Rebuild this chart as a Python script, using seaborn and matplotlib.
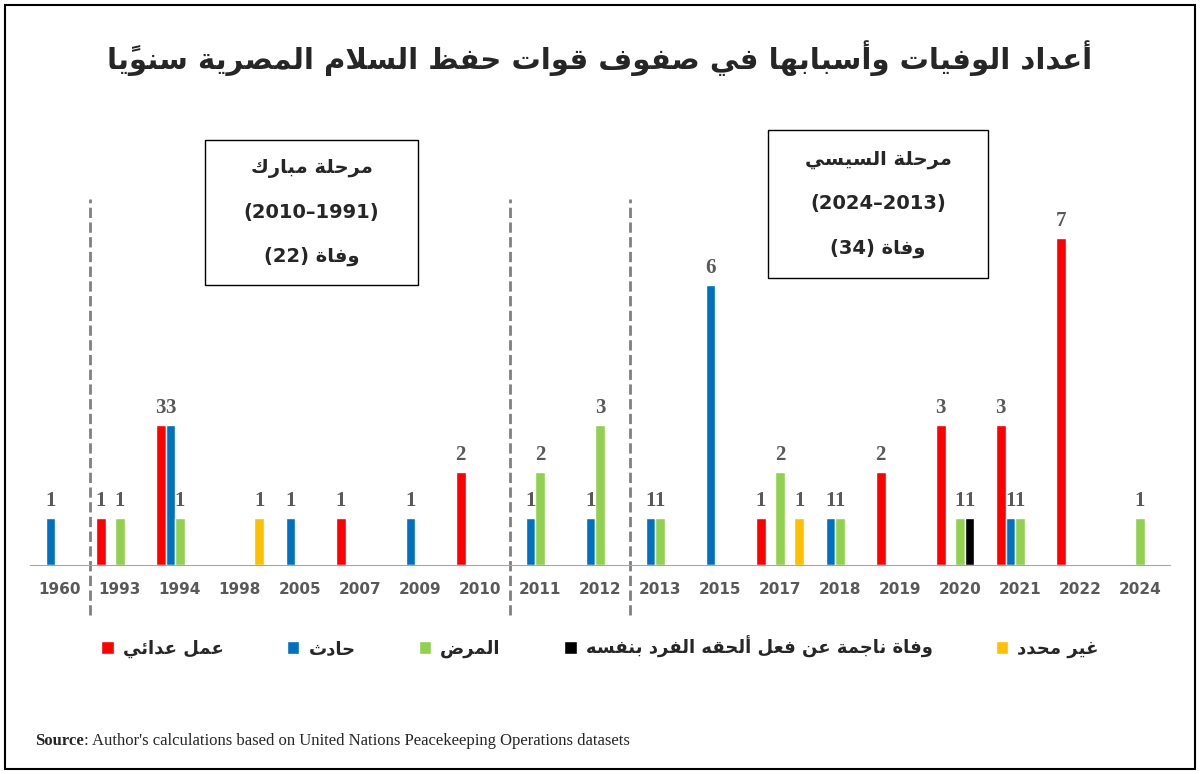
import numpy as np
import pandas as pd
import matplotlib.pyplot as plt
import seaborn as sns
from matplotlib.patches import Rectangle

# ---- Arabic shaping (no arabic_reshaper available) ----
_seq = "ءآأؤإئابةتثجحخدذرزسشصضطظعغفقكلمنهوىي"
_two = set("آأؤإاةدذرزوى")
_forms = {}
_cp = 0xFE80
for ch in _seq:
    n = 1 if ch == "ء" else (2 if ch in _two else 4)
    _forms[ch] = [chr(_cp + i) for i in range(n)]
    _cp += n
_lamalef = {"آ": 0xFEF5, "أ": 0xFEF7, "إ": 0xFEF9, "ا": 0xFEFB}
_marks = set("\u064b\u064c\u064d\u064e\u064f\u0650\u0651\u0652")


def ar(text):
    chars = list(text)
    clusters = []
    i = 0

    def nb(j, step):
        j += step
        while 0 <= j < len(chars) and chars[j] in _marks:
            j += step
        return chars[j] if 0 <= j < len(chars) else None

    while i < len(chars):
        c = chars[i]
        if c in _forms:
            p = nb(i, -1)
            pj = p is not None and p in _forms and len(_forms[p]) == 4
            nxt = nb(i, 1)
            if c == "ل" and nxt in _lamalef:
                g = chr(_lamalef[nxt] + (1 if pj else 0))
                clusters.append([g])
                i += 1
                while chars[i] in _marks:
                    i += 1
                i += 1
                continue
            f = _forms[c]
            nj = len(f) == 4 and nxt is not None and nxt in _forms
            if len(f) == 4:
                g = f[3] if (pj and nj) else f[1] if pj else f[2] if nj else f[0]
            elif len(f) == 2:
                g = f[1] if pj else f[0]
            else:
                g = f[0]
            clusters.append([g])
        elif c in _marks and clusters:
            clusters[-1].append(c)
        else:
            clusters.append([c])
        i += 1
    return "".join("".join(cl) for cl in clusters[::-1])


# ---- data ----
years = ["1960", "1993", "1994", "1998", "2005", "2007", "2009", "2010", "2011", "2012",
         "2013", "2015", "2017", "2018", "2019", "2020", "2021", "2022", "2024"]
hostile = [0, 1, 3, 0, 0, 1, 0, 2, 0, 0, 0, 0, 1, 0, 2, 3, 3, 7, 0]
accident = [1, 0, 3, 0, 1, 0, 1, 0, 1, 1, 1, 6, 0, 1, 0, 0, 1, 0, 0]
illness = [0, 1, 1, 0, 0, 0, 0, 0, 2, 3, 1, 0, 2, 1, 0, 1, 1, 0, 1]
self_inflicted = [0, 0, 0, 0, 0, 0, 0, 0, 0, 0, 0, 0, 0, 0, 0, 1, 0, 0, 0]
undetermined = [0, 0, 0, 1, 0, 0, 0, 0, 0, 0, 0, 0, 1, 0, 0, 0, 0, 0, 0]

causes = ["عمل عدائي", "حادث", "المرض", "وفاة ناجمة عن فعل ألحقه الفرد بنفسه", "غير محدد"]
colors = ["#ff0000", "#0070c0", "#92d050", "#000000", "#ffc000"]
series = [hostile, accident, illness, self_inflicted, undetermined]

rows = []
for cause, vals in zip(causes, series):
    for y, v in zip(years, vals):
        rows.append({"year": y, "cause": ar(cause), "count": v})
df = pd.DataFrame(rows)

sns.set_style("white")
plt.rcParams['font.family'] = ['DejaVu Sans']

fig = plt.figure(figsize=(12, 7.74), dpi=100)
ax = fig.add_axes([0.025, 0.27, 0.95, 0.543])
sns.barplot(data=df, x="year", y="count", hue="cause", palette=colors, saturation=1,
            hue_order=[ar(c) for c in causes], width=0.8, ax=ax, legend=True)
ax.set_ylim(0, 9)
ax.set_xlim(-0.5, len(years) - 0.5)
for cont in ax.containers:
    vals = cont.datavalues
    ax.bar_label(cont, labels=[f"{int(v)}" if v > 0 else "" for v in vals], padding=5,
                 fontsize=15, fontweight="bold", color="#595959", family="Liberation Serif")

for s in ["top", "left", "right"]:
    ax.spines[s].set_visible(False)
ax.spines["bottom"].set_color("#a6a6a6")
ax.set_yticks([])
ax.set_xlabel("")
ax.set_ylabel("")
ax.tick_params(axis="x", length=0, pad=12, labelsize=11, labelcolor="#595959")
for t in ax.get_xticklabels():
    t.set_fontweight("bold")
ax.set_xticks(np.arange(len(years) + 1) - 0.5, minor=True)
ax.tick_params(axis="x", which="minor", length=12, color="#d9d9d9")

for xb in [0.5, 7.5, 9.5]:
    ax.axvline(xb, ymin=-0.12, ymax=0.87, color="#808080", ls="--", lw=2, clip_on=False)

leg = ax.legend(loc="upper center", bbox_to_anchor=(0.5, -0.13), ncol=5, frameon=False,
                fontsize=13, handlelength=0.7, handleheight=0.7, columnspacing=3.5,
                handletextpad=0.5)
for t in leg.get_texts():
    t.set_fontweight("bold")

# title
fig.text(0.5, 0.925, ar("أعداد الوفيات وأسبابها في صفوف قوات حفظ السلام المصرية سنويًا"),
         ha="center", va="center", fontsize=21, fontweight="heavy")

# period boxes
def period_box(x0, y0, w, h, name, years_txt, n):
    fig.patches.append(Rectangle((x0, y0), w, h, transform=fig.transFigure,
                                 fill=True, facecolor="white", edgecolor="black", lw=1, zorder=5))
    cx = x0 + w / 2
    for k, t in enumerate([ar(name), years_txt, f"({n}) " + ar("وفاة")]):
        fig.text(cx, y0 + h * (0.8 - 0.3 * k), t, ha="center", va="center",
                 fontsize=14, fontweight="bold", zorder=6)

period_box(205 / 1200, 1 - 285 / 774, 213 / 1200, 145 / 774, "مرحلة مبارك", "(2010–1991)", 22)
period_box(768 / 1200, 1 - 278 / 774, 220 / 1200, 148 / 774, "مرحلة السيسي", "(2024–2013)", 34)

# source
fig.text(0.029, 0.043, "Source", fontsize=12, fontweight="bold", family="Liberation Serif", va="center")
fig.text(0.070, 0.043, ": Author's calculations based on United Nations Peacekeeping Operations datasets",
         fontsize=12, family="Liberation Serif", va="center")

fig.patches.append(Rectangle((0.004, 0.006), 0.992, 0.988, transform=fig.transFigure,
                             fill=False, edgecolor="black", lw=1.5))

fig.savefig("out.png", dpi=100)
